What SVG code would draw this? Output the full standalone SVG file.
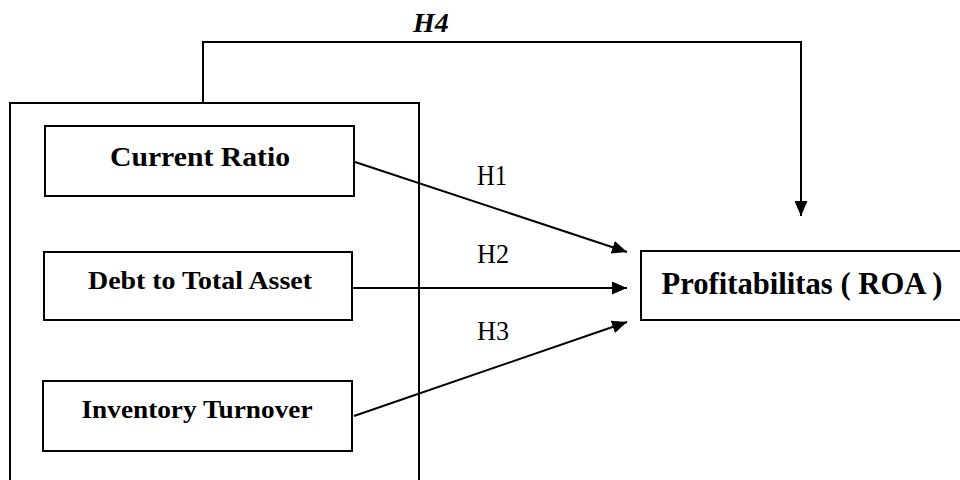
<svg xmlns="http://www.w3.org/2000/svg" width="960" height="480" viewBox="0 0 960 480">
<style>
.box{fill:#fff;stroke:#000;stroke-width:2}
.frame{fill:none;stroke:#000;stroke-width:2}
.lbl{font-family:"Liberation Serif","Times New Roman",serif;font-weight:bold;fill:#000;text-anchor:middle}
.h{font-family:"Liberation Serif","Times New Roman",serif;fill:#000}
.conn{fill:none;stroke:#000;stroke-width:2}
</style>
<defs>
<marker id="arr" viewBox="0 0 15 13" refX="15" refY="6.5" markerWidth="15" markerHeight="13" markerUnits="userSpaceOnUse" orient="auto">
<path d="M0,0 L15,6.5 L0,13 Z" fill="#000"/>
</marker>
</defs>
<g id="group-frame">
<rect class="frame" x="10" y="103" width="409" height="390"/>
</g>
<g id="node-current-ratio">
<rect class="box" x="45" y="126" width="309" height="70"/>
<text class="lbl" x="200" y="166" font-size="28" textLength="180" lengthAdjust="spacingAndGlyphs">Current Ratio</text>
</g>
<g id="node-debt">
<rect class="box" x="44" y="252" width="308" height="68"/>
<text class="lbl" x="200" y="289" font-size="26" textLength="224" lengthAdjust="spacingAndGlyphs">Debt to Total Asset</text>
</g>
<g id="node-inventory">
<rect class="box" x="43" y="381" width="309" height="70"/>
<text class="lbl" x="197" y="418" font-size="26" textLength="231" lengthAdjust="spacingAndGlyphs">Inventory Turnover</text>
</g>
<g id="node-roa">
<rect class="box" x="641" y="251" width="330" height="69"/>
<text class="lbl" x="802" y="294" font-size="31" textLength="281" lengthAdjust="spacingAndGlyphs">Profitabilitas ( ROA )</text>
</g>
<g id="connectors">
<path class="conn" d="M203,103 V42 H801 V216" marker-end="url(#arr)"/>
<path class="conn" d="M355,162 L627,252" marker-end="url(#arr)"/>
<path class="conn" d="M353,288 L627,288" marker-end="url(#arr)"/>
<path class="conn" d="M354,416 L627,322" marker-end="url(#arr)"/>
</g>
<g id="labels">
<text class="h" x="413" y="32" font-size="28" font-weight="bold" font-style="italic">H4</text>
<text class="h" x="477" y="185" font-size="29" textLength="30" lengthAdjust="spacingAndGlyphs">H1</text>
<text class="h" x="477" y="263" font-size="28" textLength="32" lengthAdjust="spacingAndGlyphs">H2</text>
<text class="h" x="477" y="340" font-size="28" textLength="32" lengthAdjust="spacingAndGlyphs">H3</text>
</g>
</svg>
